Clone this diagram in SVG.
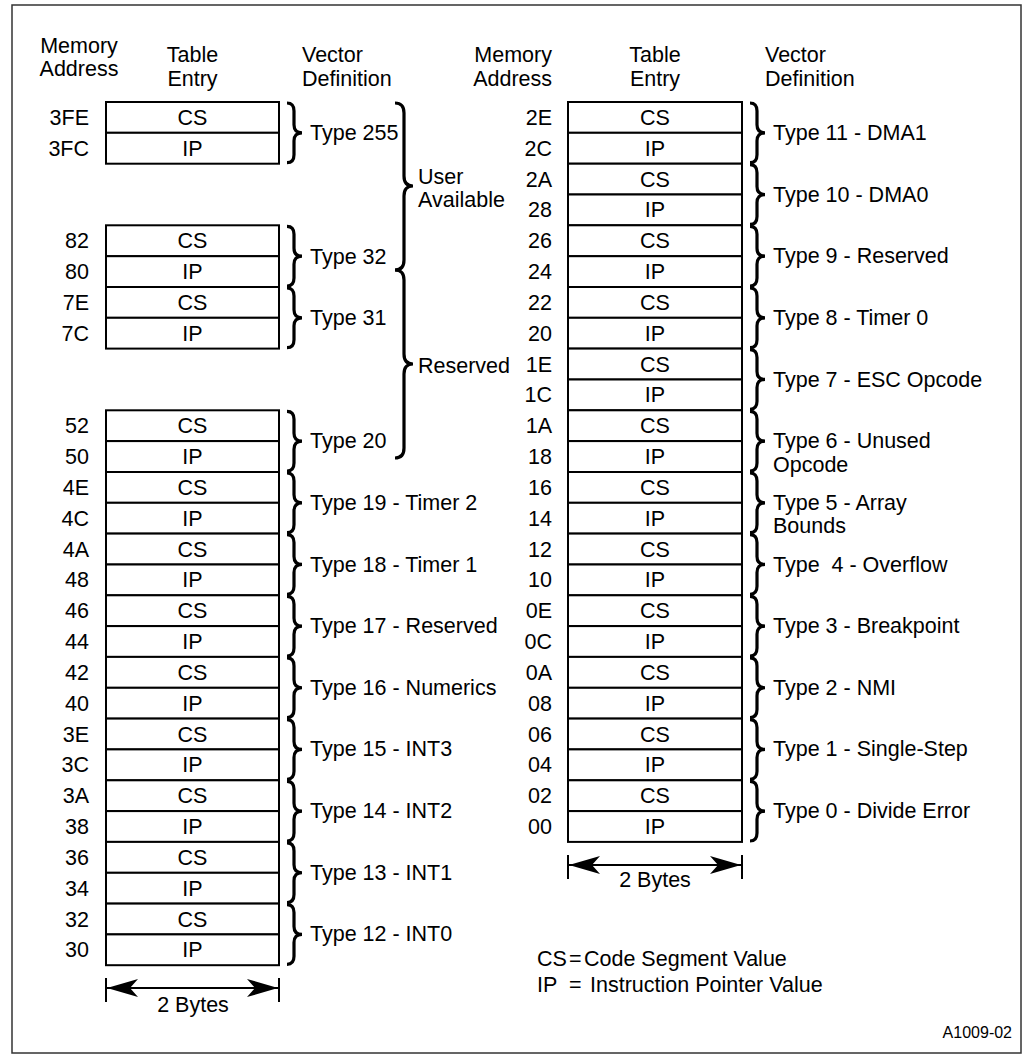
<svg xmlns="http://www.w3.org/2000/svg" width="1027" height="1060" viewBox="0 0 1027 1060">
<style>
.t{font-family:"Liberation Sans",Arial,Helvetica,sans-serif;font-size:21.5px;fill:#000}
.s{font-size:16px}
.c{text-anchor:middle}
.r{text-anchor:end}
.box{fill:#fff;stroke:#000;stroke-width:2}
.br{fill:none;stroke:#000;stroke-width:3.2}
.dim{fill:none;stroke:#000;stroke-width:2}
</style>
<defs>
<path id="brace" class="br" d="M0,0 Q7,0 7,8 L7,21.85 Q7,29.85 15,29.85 Q7,29.85 7,37.85 L7,51.7 Q7,59.7 0,59.7"/>
<marker id="ah" markerUnits="userSpaceOnUse" viewBox="-32 -10 34 20" refX="0" refY="0" markerWidth="34" markerHeight="20" orient="auto-start-reverse">
<path d="M0,0 L-31,-9 L-23,0 L-31,9 Z" fill="#000"/>
</marker>
</defs>
<rect x="0" y="0" width="1027" height="1060" fill="#fff"/>
<rect x="12" y="5" width="1009" height="1048" fill="none" stroke="#333" stroke-width="1.5"/>

<g id="headers" class="t">
<text x="79" y="53" class="c">Memory</text>
<text x="79" y="76" class="c">Address</text>
<text x="192.5" y="62" class="c">Table</text>
<text x="192.5" y="86" class="c">Entry</text>
<text x="302" y="62">Vector</text>
<text x="302" y="86">Definition</text>
<text x="552" y="62" class="r">Memory</text>
<text x="552" y="86" class="r">Address</text>
<text x="655" y="62" class="c">Table</text>
<text x="655" y="86" class="c">Entry</text>
<text x="765" y="62">Vector</text>
<text x="765" y="86">Definition</text>
</g>

<!-- Left column -->
<g id="L255" class="t"><rect class="box" x="106" y="102" width="173" height="30.8"/><rect class="box" x="106" y="132.8" width="173" height="30.9"/><text x="192.5" y="124.9" class="c">CS</text><text x="192.5" y="155.7" class="c">IP</text><text x="89" y="124.9" class="r">3FE</text><text x="89" y="155.7" class="r">3FC</text><use href="#brace" x="287" y="103"/><text x="310" y="140">Type 255</text></g>
<g id="L32" class="t"><rect class="box" x="106" y="225.3" width="173" height="30.9"/><rect class="box" x="106" y="256.2" width="173" height="30.8"/><text x="192.5" y="248.2" class="c">CS</text><text x="192.5" y="279.1" class="c">IP</text><text x="89" y="248.2" class="r">82</text><text x="89" y="279.1" class="r">80</text><use href="#brace" x="287" y="226.3"/><text x="310" y="263.5">Type 32</text></g>
<g id="L31" class="t"><rect class="box" x="106" y="287" width="173" height="30.8"/><rect class="box" x="106" y="317.8" width="173" height="30.8"/><text x="192.5" y="309.9" class="c">CS</text><text x="192.5" y="340.7" class="c">IP</text><text x="89" y="309.9" class="r">7E</text><text x="89" y="340.7" class="r">7C</text><use href="#brace" x="287" y="288"/><text x="310" y="325">Type 31</text></g>
<g id="L20" class="t"><rect class="box" x="106" y="410.3" width="173" height="30.8"/><rect class="box" x="106" y="441.1" width="173" height="30.9"/><text x="192.5" y="433.2" class="c">CS</text><text x="192.5" y="464" class="c">IP</text><text x="89" y="433.2" class="r">52</text><text x="89" y="464" class="r">50</text><use href="#brace" x="287" y="411.3"/><text x="310" y="448.3">Type 20</text></g>
<g id="L19" class="t"><rect class="box" x="106" y="472" width="173" height="30.8"/><rect class="box" x="106" y="502.8" width="173" height="30.8"/><text x="192.5" y="494.9" class="c">CS</text><text x="192.5" y="525.7" class="c">IP</text><text x="89" y="494.9" class="r">4E</text><text x="89" y="525.7" class="r">4C</text><use href="#brace" x="287" y="473"/><text x="310" y="510">Type 19 - Timer 2</text></g>
<g id="L18" class="t"><rect class="box" x="106" y="533.6" width="173" height="30.9"/><rect class="box" x="106" y="564.5" width="173" height="30.8"/><text x="192.5" y="556.5" class="c">CS</text><text x="192.5" y="587.4" class="c">IP</text><text x="89" y="556.5" class="r">4A</text><text x="89" y="587.4" class="r">48</text><use href="#brace" x="287" y="534.6"/><text x="310" y="571.5">Type 18 - Timer 1</text></g>
<g id="L17" class="t"><rect class="box" x="106" y="595.3" width="173" height="30.8"/><rect class="box" x="106" y="626.1" width="173" height="30.8"/><text x="192.5" y="618.2" class="c">CS</text><text x="192.5" y="649" class="c">IP</text><text x="89" y="618.2" class="r">46</text><text x="89" y="649" class="r">44</text><use href="#brace" x="287" y="596.3"/><text x="310" y="633.1">Type 17 - Reserved</text></g>
<g id="L16" class="t"><rect class="box" x="106" y="656.9" width="173" height="30.9"/><rect class="box" x="106" y="687.8" width="173" height="30.8"/><text x="192.5" y="679.8" class="c">CS</text><text x="192.5" y="710.7" class="c">IP</text><text x="89" y="679.8" class="r">42</text><text x="89" y="710.7" class="r">40</text><use href="#brace" x="287" y="657.9"/><text x="310" y="694.8">Type 16 - Numerics</text></g>
<g id="L15" class="t"><rect class="box" x="106" y="718.6" width="173" height="30.8"/><rect class="box" x="106" y="749.4" width="173" height="30.9"/><text x="192.5" y="741.5" class="c">CS</text><text x="192.5" y="772.3" class="c">IP</text><text x="89" y="741.5" class="r">3E</text><text x="89" y="772.3" class="r">3C</text><use href="#brace" x="287" y="719.6"/><text x="310" y="756.4">Type 15 - INT3</text></g>
<g id="L14" class="t"><rect class="box" x="106" y="780.3" width="173" height="30.8"/><rect class="box" x="106" y="811.1" width="173" height="30.8"/><text x="192.5" y="803.2" class="c">CS</text><text x="192.5" y="834" class="c">IP</text><text x="89" y="803.2" class="r">3A</text><text x="89" y="834" class="r">38</text><use href="#brace" x="287" y="781.3"/><text x="310" y="818.1">Type 14 - INT2</text></g>
<g id="L13" class="t"><rect class="box" x="106" y="841.9" width="173" height="30.9"/><rect class="box" x="106" y="872.8" width="173" height="30.8"/><text x="192.5" y="864.8" class="c">CS</text><text x="192.5" y="895.7" class="c">IP</text><text x="89" y="864.8" class="r">36</text><text x="89" y="895.7" class="r">34</text><use href="#brace" x="287" y="842.9"/><text x="310" y="879.8">Type 13 - INT1</text></g>
<g id="L12" class="t"><rect class="box" x="106" y="903.6" width="173" height="30.8"/><rect class="box" x="106" y="934.4" width="173" height="30.8"/><text x="192.5" y="926.5" class="c">CS</text><text x="192.5" y="957.3" class="c">IP</text><text x="89" y="926.5" class="r">32</text><text x="89" y="957.3" class="r">30</text><use href="#brace" x="287" y="904.6"/><text x="310" y="941.4">Type 12 - INT0</text></g>

<g id="groups" class="t">
<path class="br" d="M395,103 Q404,103 404,113 L404,176 Q404,186 413,186 Q404,186 404,196 L404,260 Q404,270 395,270"/>
<path class="br" d="M395,270 Q404,270 404,280 L404,354 Q404,364 413,364 Q404,364 404,374 L404,448 Q404,458 395,458"/>
<text x="418" y="184">User</text>
<text x="418" y="207">Available</text>
<text x="418" y="373">Reserved</text>
</g>

<!-- Right column -->
<g id="R11" class="t"><rect class="box" x="568" y="102" width="174" height="30.8"/><rect class="box" x="568" y="132.8" width="174" height="30.9"/><text x="655" y="124.9" class="c">CS</text><text x="655" y="155.7" class="c">IP</text><text x="552" y="124.9" class="r">2E</text><text x="552" y="155.7" class="r">2C</text><use href="#brace" x="750" y="103"/><text x="773" y="140">Type 11 - DMA1</text></g>
<g id="R10" class="t"><rect class="box" x="568" y="163.7" width="174" height="30.8"/><rect class="box" x="568" y="194.5" width="174" height="30.8"/><text x="655" y="186.6" class="c">CS</text><text x="655" y="217.4" class="c">IP</text><text x="552" y="186.6" class="r">2A</text><text x="552" y="217.4" class="r">28</text><use href="#brace" x="750" y="164.7"/><text x="773" y="201.5">Type 10 - DMA0</text></g>
<g id="R9" class="t"><rect class="box" x="568" y="225.3" width="174" height="30.9"/><rect class="box" x="568" y="256.2" width="174" height="30.8"/><text x="655" y="248.2" class="c">CS</text><text x="655" y="279.1" class="c">IP</text><text x="552" y="248.2" class="r">26</text><text x="552" y="279.1" class="r">24</text><use href="#brace" x="750" y="226.3"/><text x="773" y="263.2">Type 9 - Reserved</text></g>
<g id="R8" class="t"><rect class="box" x="568" y="287" width="174" height="30.8"/><rect class="box" x="568" y="317.8" width="174" height="30.8"/><text x="655" y="309.9" class="c">CS</text><text x="655" y="340.7" class="c">IP</text><text x="552" y="309.9" class="r">22</text><text x="552" y="340.7" class="r">20</text><use href="#brace" x="750" y="288"/><text x="773" y="324.8">Type 8 - Timer 0</text></g>
<g id="R7" class="t"><rect class="box" x="568" y="348.6" width="174" height="30.9"/><rect class="box" x="568" y="379.5" width="174" height="30.8"/><text x="655" y="371.5" class="c">CS</text><text x="655" y="402.4" class="c">IP</text><text x="552" y="371.5" class="r">1E</text><text x="552" y="402.4" class="r">1C</text><use href="#brace" x="750" y="349.6"/><text x="773" y="386.5">Type 7 - ESC Opcode</text></g>
<g id="R6" class="t"><rect class="box" x="568" y="410.3" width="174" height="30.8"/><rect class="box" x="568" y="441.1" width="174" height="30.9"/><text x="655" y="433.2" class="c">CS</text><text x="655" y="464" class="c">IP</text><text x="552" y="433.2" class="r">1A</text><text x="552" y="464" class="r">18</text><use href="#brace" x="750" y="411.3"/><text x="773" y="448">Type 6 - Unused</text><text x="773" y="472">Opcode</text></g>
<g id="R5" class="t"><rect class="box" x="568" y="472" width="174" height="30.8"/><rect class="box" x="568" y="502.8" width="174" height="30.8"/><text x="655" y="494.9" class="c">CS</text><text x="655" y="525.7" class="c">IP</text><text x="552" y="494.9" class="r">16</text><text x="552" y="525.7" class="r">14</text><use href="#brace" x="750" y="473"/><text x="773" y="510">Type 5 - Array</text><text x="773" y="533">Bounds</text></g>
<g id="R4" class="t"><rect class="box" x="568" y="533.6" width="174" height="30.9"/><rect class="box" x="568" y="564.5" width="174" height="30.8"/><text x="655" y="556.5" class="c">CS</text><text x="655" y="587.4" class="c">IP</text><text x="552" y="556.5" class="r">12</text><text x="552" y="587.4" class="r">10</text><use href="#brace" x="750" y="534.6"/><text x="773" y="571.5" xml:space="preserve">Type  4 - Overflow</text></g>
<g id="R3" class="t"><rect class="box" x="568" y="595.3" width="174" height="30.8"/><rect class="box" x="568" y="626.1" width="174" height="30.8"/><text x="655" y="618.2" class="c">CS</text><text x="655" y="649" class="c">IP</text><text x="552" y="618.2" class="r">0E</text><text x="552" y="649" class="r">0C</text><use href="#brace" x="750" y="596.3"/><text x="773" y="633.1">Type 3 - Breakpoint</text></g>
<g id="R2" class="t"><rect class="box" x="568" y="656.9" width="174" height="30.9"/><rect class="box" x="568" y="687.8" width="174" height="30.8"/><text x="655" y="679.8" class="c">CS</text><text x="655" y="710.7" class="c">IP</text><text x="552" y="679.8" class="r">0A</text><text x="552" y="710.7" class="r">08</text><use href="#brace" x="750" y="657.9"/><text x="773" y="694.8">Type 2 - NMI</text></g>
<g id="R1" class="t"><rect class="box" x="568" y="718.6" width="174" height="30.8"/><rect class="box" x="568" y="749.4" width="174" height="30.9"/><text x="655" y="741.5" class="c">CS</text><text x="655" y="772.3" class="c">IP</text><text x="552" y="741.5" class="r">06</text><text x="552" y="772.3" class="r">04</text><use href="#brace" x="750" y="719.6"/><text x="773" y="756.4">Type 1 - Single-Step</text></g>
<g id="R0" class="t"><rect class="box" x="568" y="780.3" width="174" height="30.8"/><rect class="box" x="568" y="811.1" width="174" height="30.8"/><text x="655" y="803.2" class="c">CS</text><text x="655" y="834" class="c">IP</text><text x="552" y="803.2" class="r">02</text><text x="552" y="834" class="r">00</text><use href="#brace" x="750" y="781.3"/><text x="773" y="818.1">Type 0 - Divide Error</text></g>

<g id="connectors">
<line class="dim" x1="106" y1="978" x2="106" y2="1002"/>
<line class="dim" x1="279" y1="978" x2="279" y2="1002"/>
<line class="dim" x1="107" y1="988" x2="278" y2="988" marker-start="url(#ah)" marker-end="url(#ah)"/>
<line class="dim" x1="568" y1="855" x2="568" y2="879"/>
<line class="dim" x1="742" y1="855" x2="742" y2="879"/>
<line class="dim" x1="569" y1="865" x2="741" y2="865" marker-start="url(#ah)" marker-end="url(#ah)"/>
</g>

<g id="labels" class="t">
<text x="193" y="1012" class="c">2 Bytes</text>
<text x="655" y="887" class="c">2 Bytes</text>
<text y="966"><tspan x="537">CS</tspan><tspan x="569">=</tspan><tspan x="584">Code Segment Value</tspan></text>
<text y="992"><tspan x="537">IP</tspan><tspan x="569">=</tspan><tspan x="590">Instruction Pointer Value</tspan></text>
<text x="1012" y="1038" class="s r">A1009-02</text>
</g>
</svg>
